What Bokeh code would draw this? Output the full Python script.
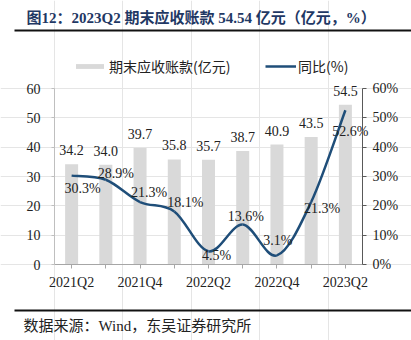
from bokeh.plotting import figure
from bokeh.models import (Range1d, LinearAxis, FixedTicker, SingleIntervalTicker, PrintfTickFormatter,
                          ColumnDataSource, Label, BoxAnnotation, Legend, LegendItem)
from bokeh.core.properties import value
from bokeh.embed import file_html
from bokeh.resources import INLINE

# ---- data ----
quarters = ["2021Q2", "2021Q3", "2021Q4", "2022Q1", "2022Q2", "2022Q3", "2022Q4", "2023Q1", "2023Q2"]
receivables = [34.2, 34.0, 39.7, 35.8, 35.7, 38.7, 40.9, 43.5, 54.5]   # 亿元
yoy = [30.3, 28.9, 21.3, 18.1, 4.5, 13.6, 3.1, 21.3, 52.6]            # %
shown_quarters = ["2021Q2", "2021Q4", "2022Q2", "2022Q4", "2023Q2"]
title_text = "图12：2023Q2 期末应收账款 54.54 亿元（亿元，%）"
source_text = "数据来源：Wind，东吴证券研究所"
bar_name = "期末应收账款(亿元)"
line_name = "同比(%)"
y_max = 60

# ---- layout (pixels on the 411x340 canvas) ----
W, H = 411, 340
L, R, T, B = 54, 362, 88, 264          # plot-area edges
SERIF = "Liberation Serif, Noto Sans CJK SC"
SANS = "Noto Sans CJK SC"
BAR_C = "#D9D9D9"
LINE_C = "#1F4E79"
TXT_C = "#222222"

n = len(quarters)
xs = [i + 0.5 for i in range(n)]

# the frame covers the whole canvas; the axes are pinned at the plot-area edges
ppx = (R - L) / n
ppy = (B - T) / y_max
x_rng = (-L / ppx, n + (W - R) / ppx)
y_rng = (-(H - B) / ppy, y_max + T / ppy)

p = figure(width=W, height=H, output_backend="svg", toolbar_location=None, title=None,
           x_range=Range1d(*x_rng), y_range=Range1d(*y_rng),
           min_border=0, x_axis_location=None, y_axis_location=None)
p.outline_line_color = None
p.background_fill_color = "white"
p.border_fill_color = "white"
p.extra_y_ranges = {"pct": Range1d(*y_rng)}

# bars
bars = p.vbar(x=xs, top=receivables, width=0.38, fill_color=BAR_C, line_color=None)

# smoothed line (Catmull-Rom -> cubic bezier, like a spreadsheet's smoothed line)
pts = list(zip(xs, yoy))
seg = dict(x0=[], y0=[], x1=[], y1=[], cx0=[], cy0=[], cx1=[], cy1=[])
for i in range(n - 1):
    pm = pts[i - 1] if i > 0 else pts[i]
    p0 = pts[i]
    p1 = pts[i + 1]
    p2 = pts[i + 2] if i + 2 < n else pts[i + 1]
    seg["x0"].append(p0[0]); seg["y0"].append(p0[1])
    seg["x1"].append(p1[0]); seg["y1"].append(p1[1])
    seg["cx0"].append(p0[0] + (p1[0] - pm[0]) / 6); seg["cy0"].append(p0[1] + (p1[1] - pm[1]) / 6)
    seg["cx1"].append(p1[0] - (p2[0] - p0[0]) / 6); seg["cy1"].append(p1[1] - (p2[1] - p0[1]) / 6)
curve = p.bezier(x0="x0", y0="y0", x1="x1", y1="y1", cx0="cx0", cy0="cy0", cx1="cx1", cy1="cy1",
                 source=ColumnDataSource(seg), line_color=LINE_C, line_width=2.5, y_range_name="pct")

def style(ax, line_c, tick_out, standoff):
    ax.axis_line_color = line_c
    ax.major_tick_line_color = line_c
    ax.major_tick_out = tick_out
    ax.major_tick_in = 0
    ax.minor_tick_line_color = None
    ax.major_label_standoff = standoff
    ax.major_label_text_font = SERIF
    ax.major_label_text_font_size = "14px"
    ax.major_label_text_color = TXT_C

# axes
xa = LinearAxis(ticker=FixedTicker(ticks=xs), fixed_location=0, bounds=(0, n))
xa.major_label_overrides = {x: (q if q in shown_quarters else "") for x, q in zip(xs, quarters)}
style(xa, "#A6A6A6", 4, 6)
p.add_layout(xa, "below")

ya = LinearAxis(ticker=SingleIntervalTicker(interval=10, num_minor_ticks=0), fixed_location=0, bounds=(0, y_max))
style(ya, "#BFBFBF", 3, 11)
p.add_layout(ya, "left")

ra = LinearAxis(y_range_name="pct", ticker=SingleIntervalTicker(interval=10, num_minor_ticks=0),
                formatter=PrintfTickFormatter(format="%d%%"), fixed_location=n, bounds=(0, y_max))
style(ra, "#595959", 4, 6)
p.add_layout(ra, "right")

# data labels
p.text(x=xs, y=receivables, text=[f"{v:.1f}" for v in receivables],
       text_font=value(SERIF), text_font_size="14px", text_color=TXT_C,
       text_align="center", text_baseline="middle", y_offset=-14)

lab_dx = [11, 10, 9, 11, 8, 3, 1, 11, 5]
lab_dy = [13, -6, -10, -9, 4, -8, -15, 6, 21]
p.text(x=xs, y=yoy, text=[f"{v:.1f}%" for v in yoy], x_offset=lab_dx, y_offset=lab_dy,
       text_font=value(SERIF), text_font_size="14px", text_color=TXT_C,
       text_align="center", text_baseline="middle", y_range_name="pct")

# legends (above plot area); screen units measured from the canvas bottom-left
leg_kw = dict(orientation="horizontal", glyph_height=6, label_standoff=2,
              padding=0, margin=0, border_line_color=None, background_fill_alpha=0,
              label_text_font=SANS, label_text_font_size="14px", label_text_color=TXT_C)
leg1 = Legend(items=[LegendItem(label=bar_name, renderers=[bars])], location=(72, H - 76),
              glyph_width=35, **leg_kw)
leg2 = Legend(items=[LegendItem(label=line_name, renderers=[curve])], location=(265, H - 76),
              glyph_width=31, **leg_kw)
p.add_layout(leg1)
p.add_layout(leg2)

# title, rules, source
p.add_layout(Label(x=26, y=H - 17, x_units="screen", y_units="screen", text=title_text,
                   text_font=SERIF, text_font_size="15px", text_font_style="bold",
                   text_color="#1F3864", text_baseline="middle", text_align="left"))
for y_rule in (30, 310):
    p.add_layout(BoxAnnotation(left=14, right=W, top=H - y_rule + 1, bottom=H - y_rule - 1,
                               left_units="screen", right_units="screen",
                               top_units="screen", bottom_units="screen",
                               fill_color="#111111", fill_alpha=1, line_color=None))
p.add_layout(Label(x=23, y=H - 325, x_units="screen", y_units="screen", text=source_text,
                   text_font=SERIF, text_font_size="15px",
                   text_color=TXT_C, text_baseline="middle", text_align="left"))

open("out.html", "w").write(file_html(p, INLINE))
